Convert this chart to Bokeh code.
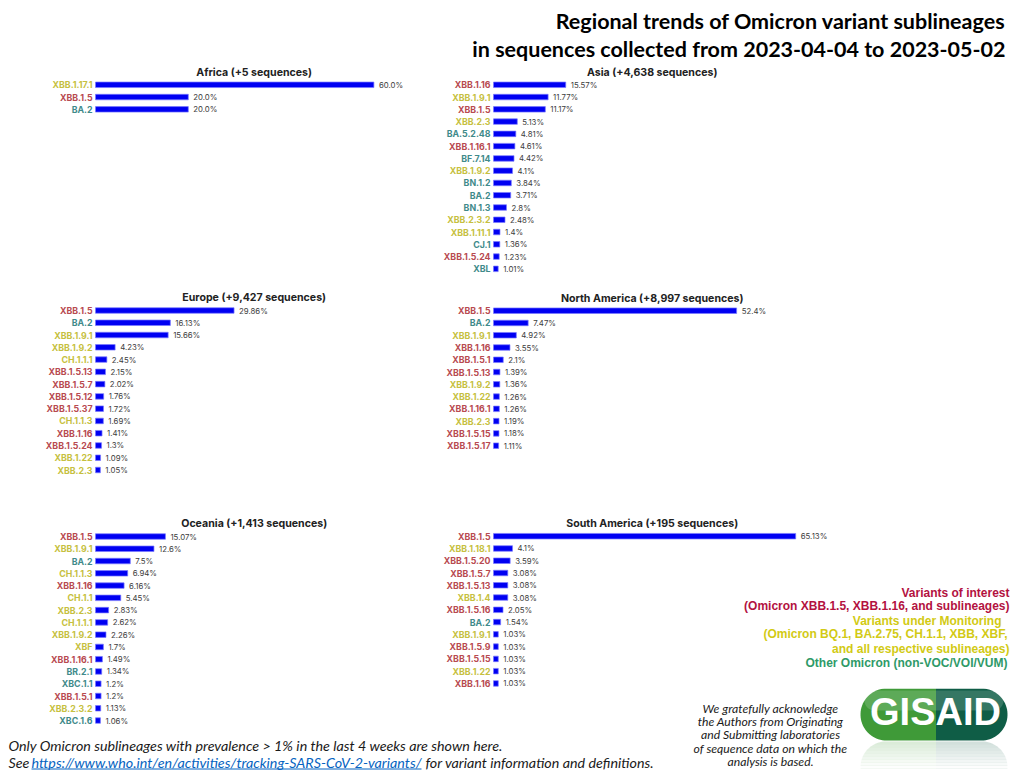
import numpy as np
from bokeh.plotting import figure
from bokeh.models import Range1d, GridBox, Spacer, ColumnDataSource
from bokeh.core.properties import value
from bokeh.embed import file_html
from bokeh.resources import INLINE

# ---------------- data ----------------
region_names = ["Africa", "Asia", "Europe", "North America", "Oceania", "South America"]
region_counts = [5, 4638, 9427, 8997, 1413, 195]

africa_lineages = ["XBB.1.17.1", "XBB.1.5", "BA.2"]
africa_share = [60.0, 20.0, 20.0]
africa_group = ["VUM", "VOI", "other"]

asia_lineages = ["XBB.1.16", "XBB.1.9.1", "XBB.1.5", "XBB.2.3", "BA.5.2.48", "XBB.1.16.1",
                 "BF.7.14", "XBB.1.9.2", "BN.1.2", "BA.2", "BN.1.3", "XBB.2.3.2",
                 "XBB.1.11.1", "CJ.1", "XBB.1.5.24", "XBL"]
asia_share = [15.57, 11.77, 11.17, 5.13, 4.81, 4.61, 4.42, 4.1, 3.84, 3.71, 2.8, 2.48,
              1.4, 1.36, 1.23, 1.01]
asia_group = ["VOI", "VUM", "VOI", "VUM", "other", "VOI", "other", "VUM", "other", "other",
              "other", "VUM", "VUM", "other", "VOI", "other"]

europe_lineages = ["XBB.1.5", "BA.2", "XBB.1.9.1", "XBB.1.9.2", "CH.1.1.1", "XBB.1.5.13",
                   "XBB.1.5.7", "XBB.1.5.12", "XBB.1.5.37", "CH.1.1.3", "XBB.1.16",
                   "XBB.1.5.24", "XBB.1.22", "XBB.2.3"]
europe_share = [29.86, 16.13, 15.66, 4.23, 2.45, 2.15, 2.02, 1.76, 1.72, 1.69, 1.41, 1.3,
                1.09, 1.05]
europe_group = ["VOI", "other", "VUM", "VUM", "VUM", "VOI", "VOI", "VOI", "VOI", "VUM",
                "VOI", "VOI", "VUM", "VUM"]

north_america_lineages = ["XBB.1.5", "BA.2", "XBB.1.9.1", "XBB.1.16", "XBB.1.5.1",
                          "XBB.1.5.13", "XBB.1.9.2", "XBB.1.22", "XBB.1.16.1", "XBB.2.3",
                          "XBB.1.5.15", "XBB.1.5.17"]
north_america_share = [52.4, 7.47, 4.92, 3.55, 2.1, 1.39, 1.36, 1.26, 1.26, 1.19, 1.18, 1.11]
north_america_group = ["VOI", "other", "VUM", "VOI", "VOI", "VOI", "VUM", "VUM", "VOI",
                       "VUM", "VOI", "VOI"]

oceania_lineages = ["XBB.1.5", "XBB.1.9.1", "BA.2", "CH.1.1.3", "XBB.1.16", "CH.1.1",
                    "XBB.2.3", "CH.1.1.1", "XBB.1.9.2", "XBF", "XBB.1.16.1", "BR.2.1",
                    "XBC.1.1", "XBB.1.5.1", "XBB.2.3.2", "XBC.1.6"]
oceania_share = [15.07, 12.6, 7.5, 6.94, 6.16, 5.45, 2.83, 2.62, 2.26, 1.7, 1.49, 1.34,
                 1.2, 1.2, 1.13, 1.06]
oceania_group = ["VOI", "VUM", "other", "VUM", "VOI", "VUM", "VUM", "VUM", "VUM", "VUM",
                 "VOI", "other", "other", "VOI", "VUM", "other"]

south_america_lineages = ["XBB.1.5", "XBB.1.18.1", "XBB.1.5.20", "XBB.1.5.7", "XBB.1.5.13",
                          "XBB.1.4", "XBB.1.5.16", "BA.2", "XBB.1.9.1", "XBB.1.5.9",
                          "XBB.1.5.15", "XBB.1.22", "XBB.1.16"]
south_america_share = [65.13, 4.1, 3.59, 3.08, 3.08, 3.08, 2.05, 1.54, 1.03, 1.03, 1.03,
                       1.03, 1.03]
south_america_group = ["VOI", "VUM", "VOI", "VOI", "VOI", "VUM", "VOI", "other", "VUM",
                       "VOI", "VOI", "VUM", "VOI"]

main_title = ["Regional trends of Omicron variant sublineages",
              "in sequences collected from 2023-04-04 to 2023-05-02"]
legend_lines = ["Variants of interest",
                "(Omicron XBB.1.5, XBB.1.16, and sublineages)",
                "Variants under Monitoring",
                "(Omicron BQ.1, BA.2.75, CH.1.1, XBB, XBF,",
                "and all respective sublineages)",
                "Other Omicron (non-VOC/VOI/VUM)"]
legend_groups = ["VOI", "VOI", "VUM", "VUM", "VUM", "other"]
ack_lines = ["We gratefully acknowledge", "the Authors from Originating",
             "and Submitting laboratories", "of sequence data on which the",
             "analysis is based."]
footer_line1 = "Only Omicron sublineages with prevalence > 1% in the last 4 weeks are shown here."
footer_see = "See"
footer_link = "https://www.who.int/en/activities/tracking-SARS-CoV-2-variants/"
footer_rest = "for variant information and definitions."

# ---------------- styles ----------------
LABEL_COLORS = {"VOI": "#b84a50", "VUM": "#c6bf40", "other": "#3f8a8a"}
LEGEND_COLORS = {"VOI": "#b3123f", "VUM": "#d2ca14", "other": "#2e9a68"}
BAR_COLOR = "#0000f2"
SCALE = 4.64   # px per percentage point
ROW = 12.27    # px per row
FONT = value("Inter")


def base(w, h, xr, yr):
    p = figure(width=w, height=h, x_range=xr, y_range=yr, title=None,
               toolbar_location=None, output_backend="svg", min_border=0,
               x_axis_location=None, y_axis_location=None)
    p.grid.visible = False
    p.outline_line_color = None
    p.background_fill_color = "white"
    p.border_fill_color = "white"
    return p


def pixel_fig(w, h):
    return base(w, h, Range1d(0, w), Range1d(h, 0))


def panel(title, lineages, shares, groups, w, h, ox, y_first):
    xr = Range1d(-ox / SCALE, (w - ox) / SCALE)
    yr = Range1d((h - y_first) / ROW, -y_first / ROW)
    p = base(w, h, xr, yr)
    src = ColumnDataSource(dict(
        y=list(range(len(lineages))), share=shares, name=lineages,
        color=[LABEL_COLORS[g] for g in groups],
        label=[f"{s}%" for s in shares]))
    p.hbar(y="y", left=0, right="share", height=0.45, source=src,
           fill_color=BAR_COLOR, line_color="#7a7aff", line_width=0.7)
    p.text(x=0, y="y", text="name", source=src, x_offset=-3, text_align="right",
           text_baseline="middle", text_color="color", text_font=FONT,
           text_font_style="bold", text_font_size="8.8px")
    p.text(x="share", y="y", text="label", source=src, x_offset=5, text_align="left",
           text_baseline="middle", text_color="#3c3c3c", text_font=FONT,
           text_font_size="7.8px")
    p.text(x=[34.2], y=[-1.02], text=[title], text_align="center", text_baseline="middle",
           text_font=FONT, text_font_style="bold", text_font_size="10.6px",
           text_color="#222222")
    return p


titles = [f"{n} (+{c:,} sequences)" for n, c in zip(region_names, region_counts)]

# grid geometry (page px): cols 0-420-683-1010, rows 0-62-284-508-688-733-770
africa = panel(titles[0], africa_lineages, africa_share, africa_group, 420, 222, 95, 22.3)
asia = panel(titles[1], asia_lineages, asia_share, asia_group, 590, 222, 73, 22.3)
europe = panel(titles[2], europe_lineages, europe_share, europe_group, 420, 224, 95, 26.0)
north_america = panel(titles[3], north_america_lineages, north_america_share,
                      north_america_group, 590, 224, 73, 26.2)
oceania = panel(titles[4], oceania_lineages, oceania_share, oceania_group, 420, 225, 95, 28.0)
south_america = panel(titles[5], south_america_lineages, south_america_share,
                      south_america_group, 590, 180, 73, 27.7)

# legend inside the South America figure (positions converted from pixels)
sa_ox, sa_y0 = 73, 27.7
leg_px = [589, 589, 581, 587, 589, 587]
leg_py = [84.5, 97.5, 112, 125.5, 140, 154]
south_america.text(x=[(px - sa_ox) / SCALE for px in leg_px],
                   y=[(py - sa_y0) / ROW for py in leg_py],
                   text=legend_lines, text_align="right", text_baseline="middle",
                   text_color=[LEGEND_COLORS[g] for g in legend_groups],
                   text_font=value("Liberation Sans"), text_font_style="bold",
                   text_font_size="12px")

# header
header = pixel_fig(1010, 62)
header.text(x=[1005, 1005], y=[20, 48], text=main_title, text_align="right",
            text_baseline="middle", text_font=value("Lato"), text_font_style="bold",
            text_font_size="21.5px", text_color="#000000")

# footer (page y 733..770)
footer = pixel_fig(683, 37)
FOOT_FONT = dict(text_font=value("Lato"), text_font_style="italic", text_font_size="14.3px",
                 text_align="left", text_baseline="middle")
footer.text(x=[8], y=[12], text=[footer_line1], text_color="#1a1a1a", **FOOT_FONT)
footer.text(x=[8, 425], y=[29, 29], text=[footer_see, footer_rest], text_color="#1a1a1a",
            **FOOT_FONT)
footer.text(x=[31], y=[29], text=[footer_link], text_color="#0563c1", **FOOT_FONT)
footer.segment(x0=[31], y0=[35.5], x1=[421], y1=[35.5], line_color="#0563c1", line_width=1)

# acknowledgement + logo (page x 683..1010, y 688..770)
ack = pixel_fig(327, 82)
ack.text(x=[87] * 5, y=[20, 33, 46, 60, 73], text=ack_lines, text_align="center",
         text_baseline="middle", text_font=value("Lato"), text_font_style="italic",
         text_font_size="12.2px", text_color="#1a1a1a")


def pill_half(x0, x1, y0, y1, side, n=40):
    r = (y1 - y0) / 2.0
    cy = (y0 + y1) / 2.0
    xm = (x0 + x1) / 2.0 + 2
    if side == "left":
        cx = x0 + r
        t = np.linspace(np.pi / 2, 3 * np.pi / 2, n)
        xs = list(cx + r * np.cos(t)) + [xm, xm]
        ys = list(cy + r * np.sin(t)) + [cy - r, cy + r]
    else:
        cx = x1 - r
        t = np.linspace(-np.pi / 2, np.pi / 2, n)
        xs = list(cx + r * np.cos(t)) + [xm, xm]
        ys = list(cy + r * np.sin(t)) + [cy + r, cy - r]
    return xs, ys


PX0, PX1, PY0, PY1 = 177, 324, 0, 52
lx, ly = pill_half(PX0, PX1, PY0, PY1, "left")
rx, ry = pill_half(PX0, PX1, PY0, PY1, "right")
ack.patch(lx, ly, fill_color="#3f9a38", line_color=None)
ack.patch(rx, ry, fill_color="#0f5d46", line_color=None)
# glossy top highlight
hx, hy = pill_half(PX0 + 4, PX1 - 4, PY0 + 2, PY0 + 22, "left")
ack.patch(hx, hy, fill_color="white", fill_alpha=0.16, line_color=None)
hx, hy = pill_half(PX0 + 4, PX1 - 4, PY0 + 2, PY0 + 22, "right")
ack.patch(hx, hy, fill_color="white", fill_alpha=0.16, line_color=None)
# reflection
rlx, rly = pill_half(PX0, PX1, PY1 + 1, PY1 + 52, "left")
rrx, rry = pill_half(PX0, PX1, PY1 + 1, PY1 + 52, "right")
ack.patch(rlx, rly, fill_color="#3f9a38", fill_alpha=0.22, line_color=None)
ack.patch(rrx, rry, fill_color="#0f5d46", fill_alpha=0.22, line_color=None)
for k in range(10):
    ack.quad(left=[PX0 - 2], right=[PX1 + 2], top=[PY1 + 1 + 3 * k], bottom=[PY1 + 4 + 3 * k],
             fill_color="white", fill_alpha=min(1.0, 0.15 + 0.1 * k), line_color=None)
ack.text(x=[252], y=[23], text=["GISAID"], text_align="center", text_baseline="middle",
         text_font=value("Liberation Sans"), text_font_style="bold", text_font_size="38px",
         text_color="white")

grid = GridBox(children=[
    (header, 0, 0, 1, 3),
    (africa, 1, 0), (asia, 1, 1, 1, 2),
    (europe, 2, 0), (north_america, 2, 1, 1, 2),
    (oceania, 3, 0, 2, 1), (south_america, 3, 1, 1, 2),
    (Spacer(width=263, height=45), 4, 1),
    (ack, 4, 2, 2, 1),
    (footer, 5, 0, 1, 2),
], rows=["62px", "222px", "224px", "180px", "45px", "37px"],
   cols=["420px", "263px", "327px"], spacing=0, width=1010, height=770)

open("out.html", "w").write(file_html(grid, INLINE))
